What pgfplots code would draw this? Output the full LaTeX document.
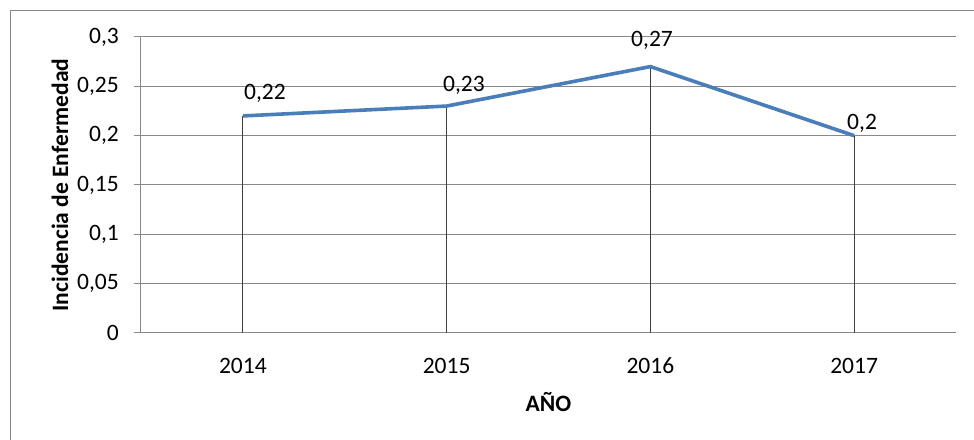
\documentclass[border=0pt]{standalone}
\usepackage{pgfplots}
\pgfplotsset{compat=1.18}
\usepackage{fontspec}
\setmainfont{Carlito}
\definecolor{lineblue}{HTML}{4A7EBB}
\definecolor{gridgray}{HTML}{888888}
\begin{document}
\begin{tikzpicture}[x=1pt,y=1pt]
\clip (0,0) rectangle (974,439);
\fill[white] (0,0) rectangle (974,439);
\draw[gridgray, line width=1.6pt] (10.5,-20) rectangle (1000,428.5);
\begin{axis}[
  at={(141pt,106pt)}, anchor=south west,
  width=815pt, height=296pt, scale only axis,
  font=\fontsize{23.5}{28}\selectfont,
  /pgf/number format/assume math mode=true,
  xmin=-0.5, xmax=3.5, ymin=0, ymax=0.3,
  xtick={0,1,2,3}, xticklabels={2014,2015,2016,2017},
  ytick={0,0.05,0.1,0.15,0.2,0.25,0.3},
  yticklabels={0,{0,05},{0,1},{0,15},{0,2},{0,25},{0,3}},
  axis x line*=bottom, axis y line*=left,
  axis line style={gridgray, line width=1pt},
  x axis line style={-}, y axis line style={-},
  ymajorgrids, grid style={gridgray, line width=1pt},
  tick align=outside, major tick length=7pt,
  ytick style={gridgray, line width=1pt},
  xtick style={draw=none},
  yticklabel style={anchor=east, inner sep=0pt, xshift=-15pt},
  xticklabel style={anchor=center, inner sep=0pt, yshift=-26pt},
  ylabel={\bfseries Incidencia de Enfermedad},
  ylabel style={at={(axis description cs:-0.0994,0.5)}, anchor=center},
  xlabel={\bfseries AÑO},
  xlabel style={at={(axis description cs:0.5,-0.233)}, anchor=center},
  clip=false,
]
\addplot[ycomb, black!75, line width=1pt, mark=none] coordinates {(0,0.22) (1,0.23) (2,0.27) (3,0.2)};
\addplot[lineblue, line width=3.6pt, mark=none] coordinates {(0,0.22) (1,0.23) (2,0.27) (3,0.2)};
\node[inner sep=0pt] at (axis cs:0.1086,0.2432) {0,22};
\node[inner sep=0pt] at (axis cs:1.085,0.2514) {0,23};
\node[inner sep=0pt] at (axis cs:2.008,0.297) {0,27};
\node[inner sep=0pt] at (axis cs:3.039,0.2128) {0,2};
\end{axis}
\end{tikzpicture}
\end{document}
